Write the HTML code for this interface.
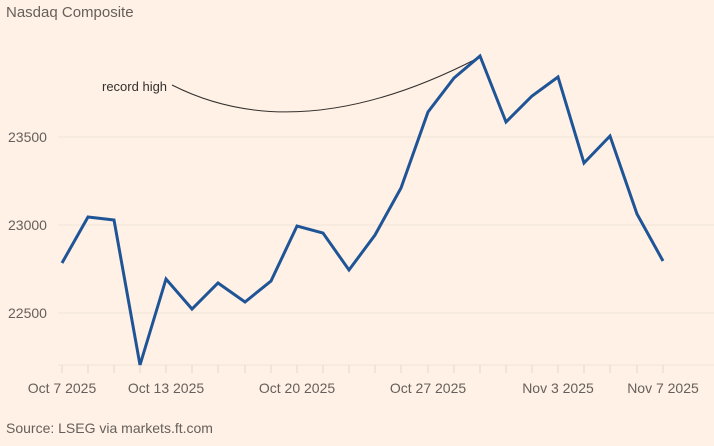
<!DOCTYPE html><html><head><style>body{margin:0;background:#FFF1E5;}</style></head><body>
<svg width="714" height="446" xmlns="http://www.w3.org/2000/svg" style="display:block;font-family:'Liberation Sans',sans-serif">
<rect width="714" height="446" fill="#FFF1E5"/>
<text x="6" y="17" font-size="15" fill="#66605C">Nasdaq Composite</text>
<g stroke="#EFE2D7" stroke-width="1">
<line x1="58" x2="714" y1="137" y2="137"/><line x1="58" x2="714" y1="225" y2="225"/><line x1="58" x2="714" y1="313" y2="313"/><line x1="58" x2="714" y1="365" y2="365"/>
</g>
<g font-size="14" fill="#66605C">
<text x="8" y="142">23500</text><text x="8" y="230">23000</text><text x="8" y="318">22500</text>
</g>
<g stroke="#E3D6CB" stroke-width="1" id="ticks"></g>
<g font-size="14" fill="#66605C" text-anchor="middle">
<text x="62" y="393">Oct 7 2025</text><text x="166" y="393">Oct 13 2025</text><text x="297" y="393">Oct 20 2025</text><text x="428" y="393">Oct 27 2025</text><text x="558" y="393">Nov 3 2025</text><text x="663" y="393">Nov 7 2025</text>
</g>
<path d="M172,85 Q300,150 478,58" fill="none" stroke="#33302E" stroke-width="1"/>
<text x="102" y="91" font-size="13" fill="#33302E">record high</text>
<polyline fill="none" stroke="#1F5597" stroke-width="3" stroke-linejoin="miter" points="62,263 88,217 114,220 140,365 166,279 192,309 218,283 245,302 271,281 297,226 323,233 349,270 375,235 401,188 428,112 454,78 480,56 506,122 532,96 558,77 584,163 610,136 637,214 663,261"/>
<text x="6" y="433" font-size="14" fill="#66605C">Source: LSEG via markets.ft.com</text>
<g stroke="#E3D6CB">
<line x1="62" x2="62" y1="365" y2="373"/><line x1="88" x2="88" y1="365" y2="373"/><line x1="114" x2="114" y1="365" y2="373"/><line x1="140" x2="140" y1="365" y2="373"/><line x1="166" x2="166" y1="365" y2="373"/><line x1="192" x2="192" y1="365" y2="373"/><line x1="218" x2="218" y1="365" y2="373"/><line x1="245" x2="245" y1="365" y2="373"/><line x1="271" x2="271" y1="365" y2="373"/><line x1="297" x2="297" y1="365" y2="373"/><line x1="323" x2="323" y1="365" y2="373"/><line x1="349" x2="349" y1="365" y2="373"/><line x1="375" x2="375" y1="365" y2="373"/><line x1="401" x2="401" y1="365" y2="373"/><line x1="428" x2="428" y1="365" y2="373"/><line x1="454" x2="454" y1="365" y2="373"/><line x1="480" x2="480" y1="365" y2="373"/><line x1="506" x2="506" y1="365" y2="373"/><line x1="532" x2="532" y1="365" y2="373"/><line x1="558" x2="558" y1="365" y2="373"/><line x1="584" x2="584" y1="365" y2="373"/><line x1="610" x2="610" y1="365" y2="373"/><line x1="637" x2="637" y1="365" y2="373"/><line x1="663" x2="663" y1="365" y2="373"/>
</g>
</svg>
</body></html>
